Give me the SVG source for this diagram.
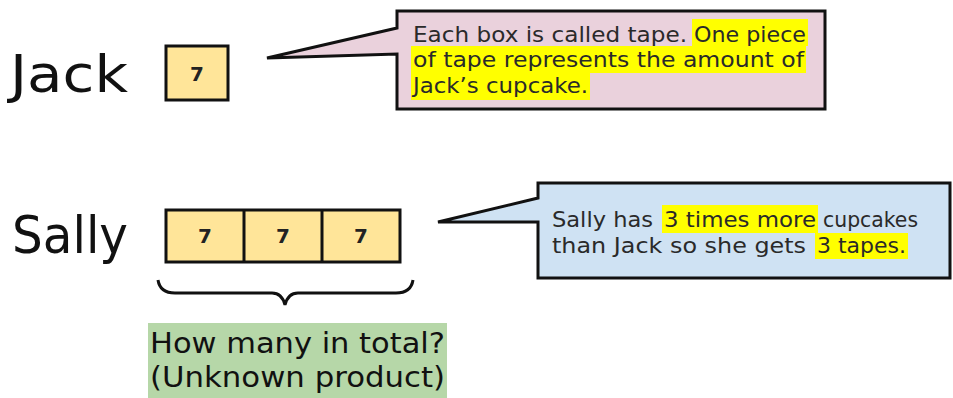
<svg xmlns="http://www.w3.org/2000/svg" width="953" height="398" viewBox="0 0 953 398">
<style>
text{font-family:"DejaVu Sans","Liberation Sans",sans-serif}
.name{font-size:52px;fill:#111}
.tape{fill:#ffe599;stroke:#111;stroke-width:3}
.seven{font-size:20px;font-weight:bold;fill:#222;text-anchor:middle}
.callout{stroke:#111;stroke-width:3;stroke-linejoin:miter}
.ct{font-size:21px;fill:#2a2a2a}
.hl{fill:#ffff00}
.q{font-size:28px;fill:#111}
</style>
<rect width="953" height="398" fill="#fff"/>
<g id="jack">
<text class="name" x="10" y="92" textLength="118" lengthAdjust="spacingAndGlyphs">Jack</text>
<rect class="tape" x="166" y="46" width="62" height="54"/>
<text class="seven" x="197" y="81">7</text>
</g>
<g id="sally">
<text class="name" x="12" y="253" textLength="116" lengthAdjust="spacingAndGlyphs">Sally</text>
<rect class="tape" x="166" y="210" width="234" height="52"/>
<line x1="244" y1="210" x2="244" y2="262" stroke="#111" stroke-width="3"/>
<line x1="322" y1="210" x2="322" y2="262" stroke="#111" stroke-width="3"/>
<text class="seven" x="205" y="243">7</text>
<text class="seven" x="283" y="243">7</text>
<text class="seven" x="361" y="243">7</text>
</g>
<g id="brace">
<path d="M158,280 Q160,293 175,293 H272 Q282,293 285,305 Q288,293 298,293 H396 Q411,293 413,280" fill="none" stroke="#111" stroke-width="3"/>
</g>
<g id="total">
<rect x="148" y="323" width="299" height="75" fill="#b6d7a8"/>
<text class="q" x="150" y="353" textLength="295" lengthAdjust="spacingAndGlyphs">How many in total?</text>
<text class="q" x="150" y="387" textLength="295" lengthAdjust="spacingAndGlyphs">(Unknown product)</text>
</g>
<g id="callout-jack">
<path class="callout" fill="#ead1dc" d="M397,11 H825 V109 H397 V54 L267,58 L397,28 Z"/>
<rect class="hl" x="692" y="19" width="116" height="27"/>
<rect class="hl" x="411" y="46" width="395" height="27"/>
<rect class="hl" x="411" y="73" width="179" height="27"/>
<text class="ct" x="413" y="42" textLength="274" lengthAdjust="spacingAndGlyphs">Each box is called tape.</text>
<text class="ct" x="694" y="42" textLength="112" lengthAdjust="spacingAndGlyphs">One piece</text>
<text class="ct" x="413" y="67" textLength="391" lengthAdjust="spacingAndGlyphs">of tape represents the amount of</text>
<text class="ct" x="413" y="93" textLength="175" lengthAdjust="spacingAndGlyphs">Jack’s cupcake.</text>
</g>
<g id="callout-sally">
<path class="callout" fill="#cfe2f3" d="M538,183 H950 V278 H538 V222 L438,222 L538,198 Z"/>
<rect class="hl" x="662" y="205" width="156" height="28"/>
<rect class="hl" x="815" y="233" width="93" height="26"/>
<text class="ct" x="552" y="227" textLength="101" lengthAdjust="spacingAndGlyphs">Sally has</text>
<text class="ct" x="664" y="227" textLength="152" lengthAdjust="spacingAndGlyphs">3 times more</text>
<text class="ct" x="823" y="227" textLength="95" lengthAdjust="spacingAndGlyphs">cupcakes</text>
<text class="ct" x="552" y="253" textLength="254" lengthAdjust="spacingAndGlyphs">than Jack so she gets</text>
<text class="ct" x="817" y="253" textLength="89" lengthAdjust="spacingAndGlyphs">3 tapes.</text>
</g>
</svg>
